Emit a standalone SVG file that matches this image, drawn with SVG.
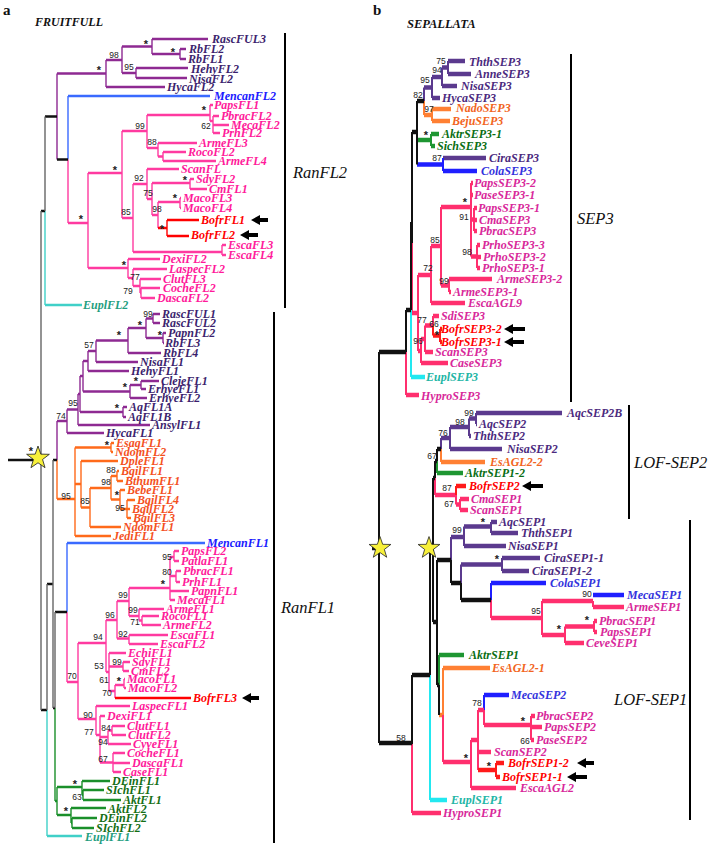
<svg xmlns="http://www.w3.org/2000/svg" width="709" height="845" viewBox="0 0 709 845">
<style>
.t{font-family:"Liberation Serif","Times New Roman",serif;font-style:italic;font-weight:bold;font-size:12px}
.tb{font-family:"Liberation Serif","Times New Roman",serif;font-style:italic;font-weight:bold;font-size:12px}
.cl{font-family:"Liberation Serif","Times New Roman",serif;font-style:italic;font-size:16.5px;fill:#111}
.ttl{font-family:"Liberation Serif","Times New Roman",serif;font-weight:bold;font-size:15px;fill:#111}
.hd{font-family:"Liberation Serif","Times New Roman",serif;font-weight:bold;font-style:italic;font-size:12px;fill:#111}
.s{font-family:"Liberation Sans",Arial,sans-serif;font-size:8.5px;fill:#222;text-anchor:middle}
.a{font-family:"Liberation Sans",Arial,sans-serif;font-size:11px;font-weight:bold;fill:#222;text-anchor:middle}
.apu{fill:#3c1f6e}.apk{fill:#ff1a9a}.abl{fill:#1a1aff}.aor{fill:#f4511e}.agr{fill:#146e14}.aeu{fill:#1f9e80}.are{fill:#ff0000}
.bpu{fill:#4b2a7e}.bpk{fill:#d8289a}.bbl{fill:#3333dd}.bor{fill:#f26522}.bgr{fill:#0a6e14}.beu{fill:#22b5a5}.bre{fill:#ff0000}
path{fill:none}
.h{stroke-width:2.6}.v{stroke-width:1.4}
.H{stroke-width:4.5}.V{stroke-width:2}
.lpu{stroke:#8e2a92}.lpk{stroke:#ff3aa0}.lbl{stroke:#3a6aff}.lor{stroke:#ff6a1a}.lgr{stroke:#1a8f2a}.lcy{stroke:#40d0c8}.lre{stroke:#ff0000}.lbk{stroke:#111}.lgy{stroke:#666}
.mpu{stroke:#5b3a8e}.mpk{stroke:#ff2f6e}.mbl{stroke:#1f1fff}.mor{stroke:#ff8033}.mgr{stroke:#1e9632}.mcy{stroke:#22e8f0}.mre{stroke:#ff1a1a}.mbk{stroke:#111}
.arr{fill:#000}
.bar{stroke:#000;stroke-width:2}
.star{fill:#f7f03a;stroke:#222;stroke-width:0.9}
</style>
<defs>
<polygon id="star" points="0,-13 3.056,-4.207 12.364,-4.017 4.945,1.607 7.641,10.517 0,5.2 -7.641,10.517 -4.945,1.607 -12.364,-4.017 -3.056,-4.207"/>
</defs>

<text class="ttl" x="3" y="15">a</text>
<text class="hd" x="35" y="26">FRUITFULL</text>
<text class="ttl" x="373" y="15">b</text>
<text class="hd" x="407" y="28" style="font-size:12.5px">SEPALLATA</text>

<g id="connectors-a">
<path class="lpu h" d="M152 39H208M180 49H186M180 59H186M136 68H188M136 78H187M106 87H165M152 54H180M122 46.5H152M122 73H136M106 60H122M57 73.5H106M153 314H160M153 323H160M163 333H166M163 343H164M146 318.5H153M146 338H163M128 328H146M128 353H161M96 340.5H128M96 362H138M88 351H96M88 371H129M141 381H159M141 389H146M130 385H141M130 398H147M83 361H88M83 391.5H130M123 407H127M123 417H126M80 376H83M80 412H123M78 394H80M78 425H150M67 409.5H78M67 433H104M57 421H67"/>
<path class="lpu v" d="M152 39V54M180 49V59M122 46.5V73M136 68V78M106 60V87M57 73.5V159.5M153 314V323M163 333V343M146 318.5V338M128 328V353M96 340.5V362M88 351V371M141 381V389M130 385V398M83 361V391.5M123 407V417M80 376V412M78 394V425M67 409.5V433M57 421V460"/>
<path class="lbl h" d="M68 96H210M67 543H205"/>
<path class="lbl v" d="M68 96V159.5M67 543V612"/>
<path class="lpk h" d="M68 223H88M88 173H122M122 131H147M147 115H210M210 105H213M210 121H213M213 116H219M213 125H229M213 133H220M147 148H158M158 143H197M158 156.5H163M163 152H186M163 161H216M122 218H133M133 184H147M147 169H179M147 199H152M152 183H190M190 179H194M190 189H207M152 215H158M158 202H180M180 198H181M180 208H181M133 252H222M222 245H226M222 255H226M88 268H128M128 259H160M128 278H133M133 269H167M133 286H140M140 279H161M140 293H141M141 288H160M141 298H155"/>
<path class="lpk v" d="M88 173V268M122 131V218M147 115V148M210 105V121M213 116V133M158 143V156.5M163 152V161M133 184V252M147 169V199M152 183V215M190 179V189M158 202V228M180 198V208M222 245V255M128 259V278M133 269V286M140 279V293M141 288V298M68 159.5V223"/>
<path class="lpk h" d="M67 682H78M78 643H106M106 620H117M106 672H109M117 601H129M117 638.5H129M129 588H170M129 616H139M170 557H174M174 551H179M174 561H179M170 576H176M176 571H181M176 582H180M170 591H189M170 600H175M139 609H164M139 620.5H142M142 616H159M142 625H161M129 635H168M129 644H158M109 653H126M109 666.5H123M123 662H130M123 671H129M109 691H115M115 685H124M124 679H125M124 688H126M78 719H96M96 706H130M96 735H100M100 716H105M100 737H108M108 730.5H112M112 726H125M112 735H126M108 744H131M100 762.5H113M113 753H125M113 763H130M113 772H121"/>
<path class="lpk v" d="M67 612V682M78 643V719M106 620V672M117 601V638.5M129 588V616M170 557V600M174 551V561M176 571V582M139 609V620.5M142 616V625M129 635V644M109 653V691M123 662V671M115 685V698M124 679V688M96 706V735M100 716V762.5M108 730.5V744M112 726V735M113 753V772"/>
<path class="lre h" d="M158 228H167M167 220H199M167 236H189M115 698H191"/>
<path class="lre v" d="M167 220V236"/>
<path class="lor h" d="M57 499H75M75 447.5H111M111 443H114M111 452H113M75 484H81M81 461H118M81 507.5H90M90 488H111M90 527H121M111 476H117M117 471H119M117 481H123M111 499.5H120M120 490H125M120 509H127M127 500H135M127 509H130M127 518H131M75 536H111"/>
<path class="lor v" d="M57 460V499M75 447.5V536M111 443V452M81 461V507.5M90 488V527M111 476V499.5M117 471V481M120 490V509M127 500V518"/>
<path class="lgr h" d="M55 801H57M57 787H82M82 781H110M82 795H83M83 790H104M83 800H121M57 815H71M71 808H106M71 823H72M72 818H97M72 828H94"/>
<path class="lgr v" d="M55 708V801M57 787V815M82 781V795M83 790V800M71 808V823M72 818V828"/>
<path class="lcy h" d="M45 305H82M47 836H82"/>
<path class="lcy v" d="M45 211V305M47 710V836"/>
<path class="lbk h" d="M45 116.5H57M57 159.5H68M41 211H45M53 460H57M47 584H53M55 612H67M41 710H47M53 708H55M8 460H41"/>
<path class="lgy v" d="M45 116.5V211M41 211V710M47 584V710M53 460V708M55 612V708"/>
<path class="arr" d="M251 220L260 215L260 218L268 218L268 222L260 222L260 225ZM240 235L249 230L249 233L258 233L258 237L249 237L249 240ZM242 698L251 693L251 696L259 696L259 700L251 700L251 703Z"/>
<line class="bar" x1="285" y1="33" x2="285" y2="308"/>
<line class="bar" x1="274" y1="312" x2="274" y2="843"/>
</g>
<use href="#star" class="star" transform="translate(38,458) scale(0.92)"/>

<g id="support-a">
<text class="a" x="146" y="48">*</text><text class="a" x="173" y="56">*</text><text class="s" x="114" y="58">98</text><text class="s" x="129" y="70">95</text><text class="a" x="99" y="74">*</text>
<text class="a" x="204" y="114">*</text><text class="s" x="206" y="129">62</text><text class="s" x="140" y="129">99</text><text class="s" x="152" y="145">88</text>
<text class="a" x="115" y="174">*</text><text class="s" x="139" y="181">92</text><text class="a" x="185" y="184">*</text><text class="s" x="148" y="196">75</text><text class="a" x="175" y="202">*</text><text class="s" x="157" y="212">98</text><text class="s" x="126" y="215">85</text><text class="a" x="162" y="233">*</text><text class="a" x="81" y="223">*</text>
<text class="a" x="124" y="269">*</text><text class="s" x="135" y="280">77</text><text class="s" x="128" y="294">79</text>
<text class="s" x="148" y="317">99</text><text class="a" x="140" y="329">*</text><text class="a" x="160" y="339">*</text><text class="a" x="119" y="339">*</text><text class="s" x="89" y="348">57</text><text class="a" x="136" y="385">*</text><text class="a" x="125" y="391">*</text><text class="a" x="117" y="412">*</text><text class="s" x="73" y="406">95</text><text class="s" x="61" y="419">74</text><text class="a" x="31" y="455">*</text>
<text class="a" x="107" y="449">*</text><text class="s" x="111" y="473">88</text><text class="s" x="106" y="485">98</text><text class="a" x="117" y="499">*</text><text class="s" x="85" y="504">85</text><text class="s" x="66" y="499">95</text><text class="s" x="120" y="511">95</text>
<text class="s" x="167" y="560">95</text><text class="s" x="167" y="575">80</text><text class="a" x="163" y="588">*</text><text class="s" x="123" y="598">99</text><text class="s" x="133" y="613">99</text><text class="s" x="110" y="618">96</text><text class="s" x="135" y="625">71</text><text class="s" x="123" y="637">92</text><text class="s" x="98" y="640">94</text><text class="s" x="117" y="665">99</text><text class="s" x="99" y="669">53</text><text class="a" x="119" y="685">*</text><text class="s" x="104" y="683">61</text><text class="s" x="72" y="679">70</text><text class="s" x="107" y="696">70</text>
<text class="s" x="88" y="718">90</text><text class="s" x="106" y="731">84</text><text class="s" x="89" y="735">77</text><text class="s" x="103" y="745">94</text><text class="s" x="103" y="762">67</text><text class="a" x="75" y="788">*</text><text class="s" x="77" y="800">63</text><text class="a" x="66" y="815">*</text>
</g>

<g id="clades-a">
<text class="cl" x="293" y="178">RanFL2</text>
<text class="cl" x="281" y="613">RanFL1</text>
</g>

<g id="tips-a" class="t">
<g id="RascFUL3"><text class="apu" x="212" y="43">RascFUL3</text></g>
<g id="RbFL2"><text class="apu" x="189" y="53">RbFL2</text></g>
<g id="RbFL1"><text class="apu" x="188" y="63">RbFL1</text></g>
<g id="HehyFL2"><text class="apu" x="191" y="73">HehyFL2</text></g>
<g id="NisaFL2"><text class="apu" x="189" y="83">NisaFL2</text></g>
<g id="HycaFL2"><text class="apu" x="167" y="91">HycaFL2</text></g>
<g id="MencanFL2"><text class="abl" x="214" y="100">MencanFL2</text></g>
<g id="PapsFL1"><text class="apk" x="214" y="109">PapsFL1</text></g>
<g id="PbracFL2"><text class="apk" x="221" y="120">PbracFL2</text></g>
<g id="MecaFL2"><text class="apk" x="231" y="129">MecaFL2</text></g>
<g id="PrhFL2"><text class="apk" x="222" y="137">PrhFL2</text></g>
<g id="ArmeFL3"><text class="apk" x="199" y="147">ArmeFL3</text></g>
<g id="RocoFL2"><text class="apk" x="188" y="156">RocoFL2</text></g>
<g id="ArmeFL4"><text class="apk" x="218" y="165">ArmeFL4</text></g>
<g id="ScanFL"><text class="apk" x="181" y="173">ScanFL</text></g>
<g id="SdyFL2"><text class="apk" x="196" y="183">SdyFL2</text></g>
<g id="CmFL1"><text class="apk" x="209" y="193">CmFL1</text></g>
<g id="MacoFL3"><text class="apk" x="183" y="202">MacoFL3</text></g>
<g id="MacoFL4"><text class="apk" x="183" y="212">MacoFL4</text></g>
<g id="BofrFL1"><text class="are" x="201" y="224">BofrFL1</text></g>
<g id="BofrFL2"><text class="are" x="191" y="239">BofrFL2</text></g>
<g id="EscaFL3"><text class="apk" x="228" y="249">EscaFL3</text></g>
<g id="EscaFL4"><text class="apk" x="228" y="259">EscaFL4</text></g>
<g id="DexiFL2"><text class="apk" x="162" y="263">DexiFL2</text></g>
<g id="LaspecFL2"><text class="apk" x="169" y="273">LaspecFL2</text></g>
<g id="ClutFL3"><text class="apk" x="163" y="283">ClutFL3</text></g>
<g id="CocheFL2"><text class="apk" x="163" y="292">CocheFL2</text></g>
<g id="DascaFL2"><text class="apk" x="157" y="302">DascaFL2</text></g>
<g id="EuplFL2"><text class="aeu" x="83" y="309">EuplFL2</text></g>
<g id="RascFUL1"><text class="apu" x="162" y="318">RascFUL1</text></g>
<g id="RascFUL2"><text class="apu" x="162" y="327">RascFUL2</text></g>
<g id="PapnFL2"><text class="apu" x="168" y="337">PapnFL2</text></g>
<g id="RbFL3"><text class="apu" x="165" y="347">RbFL3</text></g>
<g id="RbFL4"><text class="apu" x="163" y="357">RbFL4</text></g>
<g id="NisaFL1"><text class="apu" x="140" y="366">NisaFL1</text></g>
<g id="HehyFL1"><text class="apu" x="131" y="375">HehyFL1</text></g>
<g id="ClejeFL1"><text class="apu" x="161" y="385">ClejeFL1</text></g>
<g id="ErhyeFL1"><text class="apu" x="148" y="393">ErhyeFL1</text></g>
<g id="ErhyeFL2"><text class="apu" x="149" y="402">ErhyeFL2</text></g>
<g id="AqFL1A"><text class="apu" x="129" y="411">AqFL1A</text></g>
<g id="AqFL1B"><text class="apu" x="128" y="421">AqFL1B</text></g>
<g id="AnsylFL1"><text class="apu" x="152" y="429">AnsylFL1</text></g>
<g id="HycaFL1"><text class="apu" x="106" y="437">HycaFL1</text></g>
<g id="EsagFL1"><text class="aor" x="116" y="447">EsagFL1</text></g>
<g id="NdomFL2"><text class="aor" x="115" y="456">NdomFL2</text></g>
<g id="DpleFL1"><text class="aor" x="120" y="465">DpleFL1</text></g>
<g id="BgilFL1"><text class="aor" x="121" y="475">BgilFL1</text></g>
<g id="BthumFL1"><text class="aor" x="125" y="485">BthumFL1</text></g>
<g id="BebeFL1"><text class="aor" x="127" y="494">BebeFL1</text></g>
<g id="BgilFL4"><text class="aor" x="137" y="504">BgilFL4</text></g>
<g id="BgilFL2"><text class="aor" x="132" y="513">BgilFL2</text></g>
<g id="BgilFL3"><text class="aor" x="133" y="522">BgilFL3</text></g>
<g id="NdomFL1"><text class="aor" x="123" y="531">NdomFL1</text></g>
<g id="JediFL1"><text class="aor" x="113" y="540">JediFL1</text></g>
<g id="MencanFL1"><text class="abl" x="207" y="547">MencanFL1</text></g>
<g id="PapsFL2"><text class="apk" x="181" y="555">PapsFL2</text></g>
<g id="PatlaFL1"><text class="apk" x="181" y="565">PatlaFL1</text></g>
<g id="PbracFL1"><text class="apk" x="183" y="575">PbracFL1</text></g>
<g id="PrhFL1"><text class="apk" x="182" y="586">PrhFL1</text></g>
<g id="PapnFL1"><text class="apk" x="191" y="595">PapnFL1</text></g>
<g id="MecaFL1"><text class="apk" x="177" y="604">MecaFL1</text></g>
<g id="ArmeFL1"><text class="apk" x="166" y="613">ArmeFL1</text></g>
<g id="RocoFL1"><text class="apk" x="161" y="620">RocoFL1</text></g>
<g id="ArmeFL2"><text class="apk" x="163" y="629">ArmeFL2</text></g>
<g id="EscaFL1"><text class="apk" x="170" y="639">EscaFL1</text></g>
<g id="EscaFL2"><text class="apk" x="160" y="648">EscaFL2</text></g>
<g id="EchiFL1"><text class="apk" x="128" y="657">EchiFL1</text></g>
<g id="SdyFL1"><text class="apk" x="132" y="666">SdyFL1</text></g>
<g id="CmFL2"><text class="apk" x="131" y="675">CmFL2</text></g>
<g id="MacoFL1"><text class="apk" x="127" y="683">MacoFL1</text></g>
<g id="MacoFL2"><text class="apk" x="128" y="692">MacoFL2</text></g>
<g id="BofrFL3"><text class="are" x="193" y="702">BofrFL3</text></g>
<g id="LaspecFL1"><text class="apk" x="132" y="710">LaspecFL1</text></g>
<g id="DexiFL1"><text class="apk" x="107" y="720">DexiFL1</text></g>
<g id="ClutFL1"><text class="apk" x="127" y="730">ClutFL1</text></g>
<g id="ClutFL2"><text class="apk" x="128" y="739">ClutFL2</text></g>
<g id="CyveFL1"><text class="apk" x="133" y="748">CyveFL1</text></g>
<g id="CocheFL1"><text class="apk" x="127" y="757">CocheFL1</text></g>
<g id="DascaFL1"><text class="apk" x="132" y="767">DascaFL1</text></g>
<g id="CaseFL1"><text class="apk" x="123" y="776">CaseFL1</text></g>
<g id="DEinFL1"><text class="agr" x="112" y="785">DEinFL1</text></g>
<g id="SIchFL1"><text class="agr" x="106" y="794">SIchFL1</text></g>
<g id="AktFL1"><text class="agr" x="123" y="804">AktFL1</text></g>
<g id="AktFL2"><text class="agr" x="108" y="813">AktFL2</text></g>
<g id="DEinFL2"><text class="agr" x="99" y="822">DEinFL2</text></g>
<g id="SIchFL2"><text class="agr" x="96" y="832">SIchFL2</text></g>
<g id="EuplFL1"><text class="aeu" x="85" y="841">EuplFL1</text></g>
</g>

<g id="connectors-b">
<path class="mpu H" d="M448 61H465M448 74H471M442 86H457M432 98H440M442 67.5H448M432 77H442M424 87.5H432M443 158H486M476 413H562M476 424H477M469 418.5H476M469 436H471M450 427H469M450 449H502M441 438H450M451 537H464M464 546H506M464 526.5H491M491 522H497M491 533H518M461 564.5H502M502 558H540M502 571H529"/>
<path class="mpu V" d="M448 61V74M442 67.5V86M432 77V98M424 87.5V101M476 413V424M469 418.5V436M450 427V449M441 438V449M451 537V560M464 526.5V546M491 522V533M461 564.5V583M502 558V571"/>
<path class="mor H" d="M432 109H451M432 121H450M424 115H432M441 462H485M443 668H490M439 715H443"/>
<path class="mor V" d="M432 109V121M424 101V115M441 449V462M443 668V715"/>
<path class="mgr H" d="M431 134H439M431 146H435M417 140H431M437 473H463M439 655H464"/>
<path class="mgr V" d="M431 134V146M437 461V473M439 655V685"/>
<path class="mbl H" d="M417 164.5H443M443 171H477M491 583H546M593 595H624M484 695H509"/>
<path class="mbl V" d="M443 158V171M491 583V600M484 695V710"/>
<path class="mpk H" d="M412 313H418M418 275H431M431 303H465M431 246H441M441 207H471M471 183H473M471 195H473M471 219.5H474M474 208H477M474 220H477M474 231H477M471 256.5H477M477 245H480M477 257H481M477 268H480M441 285.5H449M449 279H492M449 292H451M418 351H421M421 363H448M421 339H425M425 352H433M425 325.5H433M433 316H439M406 395H419M435 495H456M456 504.5H460M460 499H469M460 510H468M491 618H542M542 601H593M593 607H624M542 635H565M565 643H584M565 626.5H594M594 621H597M594 632H597M443 762H471M471 788H516M471 740H478M478 752H491M478 710H484M484 725H531M531 716H535M531 727H542M531 740H534M412 813H441"/>
<path class="mpk V" d="M412 243V313M418 275V351M431 246V303M441 207V285.5M471 183V256.5M474 208V231M477 245V268M449 279V292M421 339V363M425 325.5V352M433 316V325.5M406 352V395M435 478V495M456 495V504.5M460 499V510M491 600V618M542 601V635M593 601V607M565 626.5V643M594 621V632M443 715V762M471 740V788M478 710V770M484 710V725M531 716V740M412 744V813"/>
<path class="mre H" d="M433 335.5H440M440 329H442M440 342H442M456 486H466M478 770H496M496 763H504M496 777H500"/>
<path class="mre V" d="M433 325.5V335.5M440 329V342M456 486V495M496 763V777"/>
<path class="mcy H" d="M411 377H425M430 800H447"/>
<path class="mcy V" d="M411 310V377M430 675V800"/>
<path class="mbk H" d="M406 310H411M379 352H406M417 101H424M412 132H417M433 478H435M437 449H441M435 461H437M433 622H437M437 560H451M451 583H461M461 600H491M437 685H439M430 548H433M412 675H430M379 743H412M372 548H379"/>
<path class="mbk V" d="M379 352V743M406 310V352M411 222V310M412 132V243M417 101V164.5M433 478V622M435 461V478M437 449V461M437 560V685M451 560V583M461 583V600M430 548V675M412 675V744M439 685V715"/>
<path class="arr" d="M504 329L513 324L513 327L525 327L525 331L513 331L513 334ZM504 342L513 337L513 340L524 340L524 344L513 344L513 347ZM522 486L531 481L531 484L543 484L543 488L531 488L531 491ZM577 763L586 758L586 761L594 761L594 765L586 765L586 768ZM567 777L576 772L576 775L587 775L587 779L576 779L576 782Z"/>
<line class="bar" x1="571" y1="54" x2="571" y2="402"/>
<line class="bar" x1="629" y1="405" x2="629" y2="519"/>
<line class="bar" x1="690" y1="520" x2="690" y2="820"/>
</g>
<use href="#star" class="star" transform="translate(380,548) scale(0.88)"/>
<use href="#star" class="star" transform="translate(429,548) scale(0.88)"/>

<g id="support-b">
<text class="s" x="441" y="64">75</text><text class="s" x="437" y="73">94</text><text class="s" x="425" y="83">95</text><text class="s" x="418" y="98">82</text><text class="s" x="429" y="112">97</text><text class="a" x="426" y="139">*</text><text class="s" x="437" y="161">87</text>
<text class="a" x="465" y="206">*</text><text class="s" x="464" y="220">91</text><text class="s" x="435" y="243">85</text><text class="s" x="467" y="255">98</text><text class="s" x="428" y="271">72</text><text class="s" x="444" y="284">99</text><text class="s" x="422" y="323">77</text><text class="s" x="434" y="327">66</text><text class="a" x="437" y="339">*</text><text class="s" x="418" y="344">96</text>
<text class="s" x="469" y="416">99</text><text class="s" x="460" y="425">98</text><text class="s" x="443" y="436">76</text><text class="s" x="432" y="459">67</text><text class="s" x="447" y="491">87</text><text class="s" x="449" y="507">67</text>
<text class="a" x="483" y="526">*</text><text class="s" x="457" y="533">99</text><text class="a" x="497" y="563">*</text><text class="s" x="536" y="614">95</text><text class="s" x="587" y="597">90</text><text class="a" x="587" y="624">*</text><text class="a" x="559" y="633">*</text>
<text class="s" x="477" y="706">78</text><text class="a" x="523" y="725">*</text><text class="s" x="525" y="744">66</text><text class="a" x="466" y="762">*</text><text class="a" x="489" y="770">*</text><text class="s" x="401" y="741">58</text>
</g>

<g id="clades-b">
<text class="cl" x="577" y="224">SEP3</text>
<text class="cl" x="634" y="468">LOF-SEP2</text>
<text class="cl" x="614" y="705">LOF-SEP1</text>
</g>

<g id="tips-b" class="tb">
<g id="ThthSEP3"><text class="bpu" x="469" y="66">ThthSEP3</text></g>
<g id="AnneSEP3"><text class="bpu" x="475" y="78">AnneSEP3</text></g>
<g id="NisaSEP3"><text class="bpu" x="461" y="90">NisaSEP3</text></g>
<g id="HycaSEP3"><text class="bpu" x="442" y="102">HycaSEP3</text></g>
<g id="NadoSEP3"><text class="bor" x="456" y="112">NadoSEP3</text></g>
<g id="BejuSEP3"><text class="bor" x="452" y="125">BejuSEP3</text></g>
<g id="AktrSEP3-1"><text class="bgr" x="442" y="138">AktrSEP3-1</text></g>
<g id="SichSEP3"><text class="bgr" x="437" y="150">SichSEP3</text></g>
<g id="CiraSEP3"><text class="bpu" x="489" y="162">CiraSEP3</text></g>
<g id="ColaSEP3"><text class="bbl" x="481" y="175">ColaSEP3</text></g>
<g id="PapsSEP3-2"><text class="bpk" x="474" y="187">PapsSEP3-2</text></g>
<g id="PaseSEP3-1"><text class="bpk" x="474" y="199">PaseSEP3-1</text></g>
<g id="PapsSEP3-1"><text class="bpk" x="478" y="212">PapsSEP3-1</text></g>
<g id="CmaSEP3"><text class="bpk" x="479" y="224">CmaSEP3</text></g>
<g id="PbracSEP3"><text class="bpk" x="479" y="235">PbracSEP3</text></g>
<g id="PrhoSEP3-3"><text class="bpk" x="482" y="249">PrhoSEP3-3</text></g>
<g id="PrhoSEP3-2"><text class="bpk" x="483" y="261">PrhoSEP3-2</text></g>
<g id="PrhoSEP3-1"><text class="bpk" x="482" y="272">PrhoSEP3-1</text></g>
<g id="ArmeSEP3-2"><text class="bpk" x="497" y="283">ArmeSEP3-2</text></g>
<g id="ArmeSEP3-1"><text class="bpk" x="453" y="296">ArmeSEP3-1</text></g>
<g id="EscaAGL9"><text class="bpk" x="468" y="307">EscaAGL9</text></g>
<g id="SdiSEP3"><text class="bpk" x="441" y="320">SdiSEP3</text></g>
<g id="BofrSEP3-2"><text class="bre" x="441" y="333">BofrSEP3-2</text></g>
<g id="BofrSEP3-1"><text class="bre" x="441" y="346">BofrSEP3-1</text></g>
<g id="ScanSEP3"><text class="bpk" x="435" y="356">ScanSEP3</text></g>
<g id="CaseSEP3"><text class="bpk" x="450" y="367">CaseSEP3</text></g>
<g id="EuplSEP3"><text class="beu" x="426" y="381">EuplSEP3</text></g>
<g id="HyproSEP3"><text class="bpk" x="421" y="400">HyproSEP3</text></g>
<g id="AqcSEP2B"><text class="bpu" x="567" y="417">AqcSEP2B</text></g>
<g id="AqcSEP2"><text class="bpu" x="479" y="428">AqcSEP2</text></g>
<g id="ThthSEP2"><text class="bpu" x="473" y="440">ThthSEP2</text></g>
<g id="NisaSEP2"><text class="bpu" x="507" y="453">NisaSEP2</text></g>
<g id="EsAGL2-2"><text class="bor" x="490" y="466">EsAGL2-2</text></g>
<g id="AktrSEP1-2"><text class="bgr" x="465" y="477">AktrSEP1-2</text></g>
<g id="BofrSEP2"><text class="bre" x="469" y="490">BofrSEP2</text></g>
<g id="CmaSEP1"><text class="bpk" x="471" y="503">CmaSEP1</text></g>
<g id="ScanSEP1"><text class="bpk" x="470" y="514">ScanSEP1</text></g>
<g id="AqcSEP1"><text class="bpu" x="499" y="526">AqcSEP1</text></g>
<g id="ThthSEP1"><text class="bpu" x="521" y="537">ThthSEP1</text></g>
<g id="NisaSEP1"><text class="bpu" x="508" y="550">NisaSEP1</text></g>
<g id="CiraSEP1-1"><text class="bpu" x="544" y="562">CiraSEP1-1</text></g>
<g id="CiraSEP1-2"><text class="bpu" x="532" y="575">CiraSEP1-2</text></g>
<g id="ColaSEP1"><text class="bbl" x="550" y="587">ColaSEP1</text></g>
<g id="MecaSEP1"><text class="bbl" x="627" y="599">MecaSEP1</text></g>
<g id="ArmeSEP1"><text class="bpk" x="626" y="611">ArmeSEP1</text></g>
<g id="PbracSEP1"><text class="bpk" x="599" y="625">PbracSEP1</text></g>
<g id="PapsSEP1"><text class="bpk" x="600" y="636">PapsSEP1</text></g>
<g id="CeveSEP1"><text class="bpk" x="586" y="647">CeveSEP1</text></g>
<g id="AktrSEP1"><text class="bgr" x="469" y="659">AktrSEP1</text></g>
<g id="EsAGL2-1"><text class="bor" x="492" y="672">EsAGL2-1</text></g>
<g id="MecaSEP2"><text class="bbl" x="511" y="699">MecaSEP2</text></g>
<g id="PbracSEP2"><text class="bpk" x="536" y="720">PbracSEP2</text></g>
<g id="PapsSEP2"><text class="bpk" x="544" y="731">PapsSEP2</text></g>
<g id="PaseSEP2"><text class="bpk" x="536" y="744">PaseSEP2</text></g>
<g id="ScanSEP2"><text class="bpk" x="494" y="756">ScanSEP2</text></g>
<g id="BofrSEP1-2"><text class="bre" x="508" y="767">BofrSEP1-2</text></g>
<g id="BofrSEP1-1"><text class="bre" x="502" y="781">BofrSEP1-1</text></g>
<g id="EscaAGL2"><text class="bpk" x="520" y="792">EscaAGL2</text></g>
<g id="EuplSEP1"><text class="beu" x="451" y="804">EuplSEP1</text></g>
<g id="HyproSEP1"><text class="bpk" x="443" y="817">HyproSEP1</text></g>
</g>
</svg>
